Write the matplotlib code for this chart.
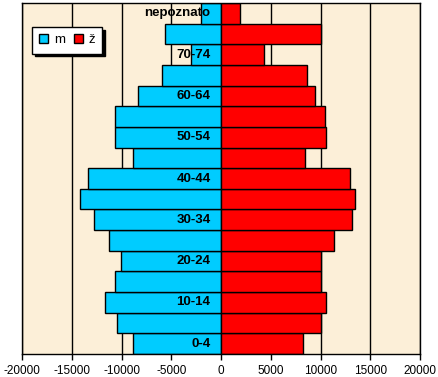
import numpy as np
import matplotlib
matplotlib.use("Agg")
import matplotlib.pyplot as plt
from matplotlib.patches import Patch

# dobne skupine (odozdo prema gore)
skupine = ["0-4", "5-9", "10-14", "15-19", "20-24", "25-29", "30-34", "35-39",
           "40-44", "45-49", "50-54", "55-59", "60-64", "65-69", "70-74",
           "75+", "nepoznato"]
muski = [8800, 10500, 11700, 10700, 10100, 11300, 12800, 14200,
         13400, 8800, 10700, 10700, 8300, 5900, 3000, 5600, 2000]
zene = [8250, 10000, 10600, 10050, 10050, 11400, 13200, 13500,
        13000, 8450, 10600, 10450, 9450, 8650, 4300, 10100, 1900]
xticks = [-20000, -15000, -10000, -5000, 0, 5000, 10000, 15000, 20000]

plt.rcParams['font.family'] = ['Liberation Sans', 'DejaVu Sans']

fig = plt.figure(figsize=(4.38, 3.77), dpi=100)
ax = fig.add_axes([22/438, 23/377, 398/438, 351/377])
ax.set_facecolor('#FCEFD8')

y = np.arange(len(skupine))
ax.barh(y, -np.array(muski), height=1.0, color='#00CCFF', edgecolor='black',
        linewidth=1, zorder=2)
ax.barh(y, zene, height=1.0, color='#FF0000', edgecolor='black',
        linewidth=1, zorder=2)

# vertikalne linije mreze
for v in xticks:
    ax.axvline(v, color='black', linewidth=1, zorder=1)

# oznake skupina (svaka druga)
for i, s in enumerate(skupine):
    if i % 2 == 0:
        ax.annotate(s, (0, i), xytext=(-7.5, 0), textcoords='offset points',
                    ha='right', va='center', fontsize=9.5, fontweight='bold',
                    zorder=3)

ax.set_xlim(-20000, 20000)
ax.set_ylim(-0.5, len(skupine) - 0.5)
ax.set_xticks(xticks)
ax.set_xticklabels([str(v) for v in xticks], fontsize=8.5)
ax.set_yticks([])
ax.tick_params(axis='x', length=4, width=1, direction='out', pad=4)
for sp in ax.spines.values():
    sp.set_linewidth(1)
    sp.set_color('black')

handles = [Patch(facecolor='#00CCFF', edgecolor='black', label='m'),
           Patch(facecolor='#FF0000', edgecolor='black', label='ž')]
leg = ax.legend(handles=handles, loc='upper left', bbox_to_anchor=(0.025, 0.932),
                borderaxespad=0, ncol=2, fontsize=9.5, frameon=True,
                fancybox=False, shadow={'color': 'black', 'alpha': 1},
                handlelength=0.7, handleheight=0.7, handletextpad=0.4,
                columnspacing=0.7, borderpad=0.55)
leg.get_frame().set_edgecolor('black')
leg.get_frame().set_linewidth(1)
leg.get_frame().set_facecolor('white')
leg.get_frame().set_alpha(1)

fig.savefig("out.png", dpi=100)
